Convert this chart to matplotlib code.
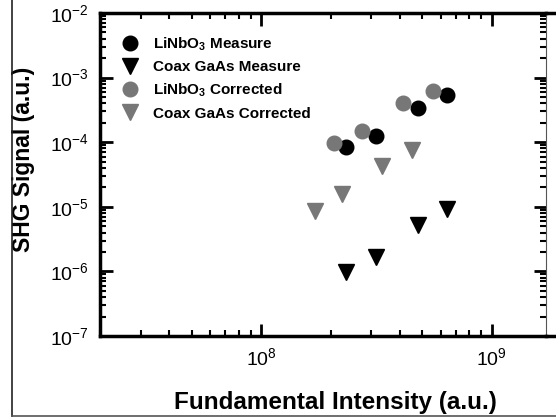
import numpy as np
import matplotlib
matplotlib.use("Agg")
import matplotlib.pyplot as plt
from matplotlib.lines import Line2D
from matplotlib.ticker import LogLocator, NullFormatter

# values
intensity = [2.34e8, 3.16e8, 4.77e8, 6.37e8]
linbo3_measure = [8.4e-5, 1.25e-4, 3.4e-4, 5.4e-4]
gaas_measure = [9.8e-7, 1.67e-6, 5.2e-6, 9.2e-6]

intensity_linbo3_corr = [2.06e8, 2.75e8, 4.14e8, 5.54e8]
linbo3_corrected = [9.7e-5, 1.49e-4, 4.0e-4, 6.2e-4]

intensity_gaas_corr = [1.72e8, 2.25e8, 3.36e8, 4.49e8]
gaas_corrected = [8.6e-6, 1.58e-5, 4.3e-5, 7.6e-5]

plt.rcParams['font.family'] = ['Liberation Sans', 'DejaVu Sans']
plt.rcParams['mathtext.fontset'] = 'custom'
plt.rcParams['mathtext.rm'] = 'Liberation Sans'
plt.rcParams['mathtext.it'] = 'Liberation Sans:italic'
plt.rcParams['mathtext.bf'] = 'Liberation Sans:bold'

W, H = 556, 419
fig = plt.figure(figsize=(W / 100, H / 100), dpi=100)
ax = fig.add_axes([100 / W, 1 - 336 / H, 446 / W, 323 / H])

gray = '#777777'
ax.plot(intensity, linbo3_measure, 'o', color='black', ms=10.5, label=r'LiNbO$_\mathbf{3}$ Measure')
ax.plot(intensity, gaas_measure, 'v', color='black', ms=11, label='Coax GaAs Measure')
ax.plot(intensity_linbo3_corr, linbo3_corrected, 'o', color=gray, ms=10.5, label=r'LiNbO$_\mathbf{3}$ Corrected')
ax.plot(intensity_gaas_corr, gaas_corrected, 'v', color=gray, ms=11, label='Coax GaAs Corrected')

ax.set_xscale('log')
ax.set_yscale('log')
ax.set_xlim(2e7, 1.72e9)
ax.set_ylim(1e-7, 1e-2)

for axis in (ax.xaxis, ax.yaxis):
    axis.set_major_locator(LogLocator(base=10))
    axis.set_minor_locator(LogLocator(base=10, subs=np.arange(2, 10)))
    axis.set_minor_formatter(NullFormatter())

ax.tick_params(which='both', direction='in', top=True, right=True)
ax.tick_params(which='major', length=9, width=2, labelsize=14, pad=8)
ax.tick_params(which='minor', length=4, width=1.5)

for side in ('left', 'top', 'bottom'):
    ax.spines[side].set_linewidth(2.5)
ax.spines['right'].set_linewidth(0.8)
ax.spines['right'].set_color('#555555')

ax.set_xlabel('Fundamental Intensity (a.u.)', fontsize=17.5, fontweight='bold')
ax.set_ylabel('SHG Signal (a.u.)', fontsize=16.5, fontweight='bold')
ax.xaxis.set_label_coords(0.527, -0.170)
ax.yaxis.set_label_coords(-0.146, 0.548)

ax.legend(loc='upper left', bbox_to_anchor=(110 / W, 1 - 29 / H),
          bbox_transform=fig.transFigure, frameon=False, numpoints=1,
          borderaxespad=0, labelspacing=0.5, handletextpad=0.6,
          handlelength=1.8, prop={'size': 11, 'weight': 'bold'})

# frame edges of the cropped figure
def px_line(x0, y0, x1, y1, lw, c):
    fig.add_artist(Line2D([x0 / W, x1 / W], [1 - y0 / H, 1 - y1 / H],
                          transform=fig.transFigure, lw=lw, color=c))

px_line(12, 0, 12, 416, 1.2, '#222222')
px_line(12, 416, W, 416, 1.2, '#555555')
px_line(546, 13, W, 13, 2.5, 'black')
px_line(546, 336, W, 336, 2.5, 'black')

fig.savefig('out.png', dpi=100)
